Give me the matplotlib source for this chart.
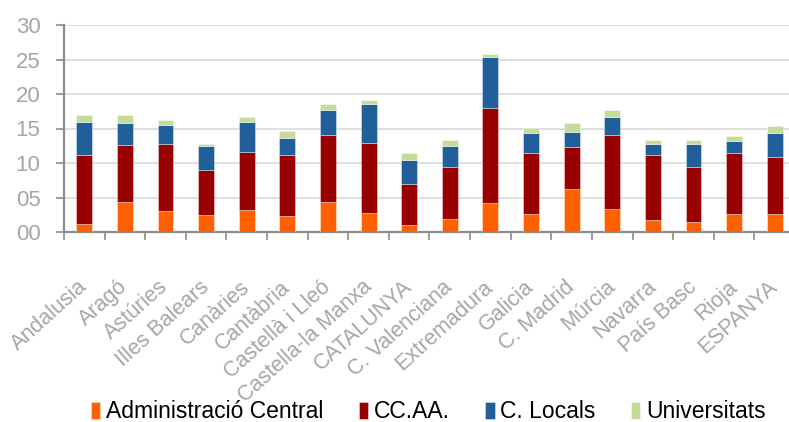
import matplotlib
matplotlib.use("Agg")
import matplotlib.pyplot as plt
import matplotlib.transforms as mtransforms
import numpy as np

plt.rcParams['font.family'] = ['Liberation Sans', 'DejaVu Sans']

categories = ["Andalusia", "Aragó", "Astúries", "Illes Balears", "Canàries", "Cantàbria",
              "Castellà i Lleó", "Castella-la Manxa", "CATALUNYA", "C. Valenciana",
              "Extremadura", "Galicia", "C. Madrid", "Múrcia", "Navarra", "País Basc",
              "Rioja", "ESPANYA"]
admin_central = [1.2, 4.4, 3.0, 2.5, 3.2, 2.3, 4.4, 2.7, 1.0, 1.9, 4.2, 2.6, 6.2, 3.4, 1.7, 1.5, 2.6, 2.6]
ccaa = [9.9, 8.2, 9.7, 6.5, 8.4, 8.8, 9.6, 10.2, 6.0, 7.5, 13.7, 8.8, 6.1, 10.6, 9.4, 7.9, 8.8, 8.2]
c_locals = [4.9, 3.2, 2.8, 3.4, 4.4, 2.5, 3.7, 5.7, 3.5, 3.1, 7.5, 2.9, 2.2, 2.7, 1.6, 3.3, 1.8, 3.5]
universitats = [0.9, 1.1, 0.7, 0.4, 0.6, 1.0, 0.9, 0.5, 0.9, 0.9, 0.4, 0.8, 1.3, 1.0, 0.7, 0.7, 0.7, 1.0]
series_names = ["Administració Central", "CC.AA.", "C. Locals", "Universitats"]
yticks = [0, 5, 10, 15, 20, 25, 30]
ytick_labels = ["00", "05", "10", "15", "20", "25", "30"]

colors = ["#FF6000", "#990000", "#215F9A", "#C3DC9A"]

fig = plt.figure(figsize=(7.89, 4.22), dpi=100)
ax = fig.add_axes([64/789, 190/422, 731/789, 207/422])

x = np.arange(len(categories))
bottom = np.zeros(len(categories))
handles = []
for vals, col, name in zip([admin_central, ccaa, c_locals, universitats], colors, series_names):
    b = ax.bar(x, vals, 0.39, bottom=bottom, color=col, label=name,
               edgecolor=(1, 1, 1, 0.45), linewidth=0.6, zorder=3)
    handles.append(b)
    bottom += np.array(vals)

ax.set_xlim(-0.5, len(categories) - 0.5)
ax.set_ylim(0, 30)
ax.set_yticks(yticks)
ax.set_yticklabels(ytick_labels)
ax.yaxis.grid(True, color="#D9D9D9", linewidth=1.2, zorder=0)
ax.set_axisbelow(True)

for s in ["top", "right"]:
    ax.spines[s].set_visible(False)
for s in ["left", "bottom"]:
    ax.spines[s].set_color("#8C8C8C")
    ax.spines[s].set_linewidth(1.6)

ax.tick_params(axis="y", colors="#8C8C8C", length=6, width=1.2, labelsize=16,
               labelcolor="#A6A6A6", pad=11)
ax.set_xticks(x)
ax.set_xticklabels(categories, rotation=42, ha="right", va="top", color="#A6A6A6", fontsize=15.5)
ax.tick_params(axis="x", which="major", length=0, pad=32)
offset = mtransforms.ScaledTranslation(7/100, 0, fig.dpi_scale_trans)
for lbl in ax.get_xticklabels():
    lbl.set_transform(lbl.get_transform() + offset)
ax.set_xticks(np.arange(-0.5, len(categories)), minor=True)
ax.tick_params(axis="x", which="minor", length=6, width=1.2, color="#8C8C8C")

fig.legend(handles=handles, labels=series_names, loc="center", ncol=4,
           bbox_to_anchor=(0.543, 1 - 412/422), frameon=False, fontsize=16.5,
           handlelength=0.4, handleheight=0.75, handletextpad=0.25, columnspacing=1.55,
           borderpad=0)

fig.savefig("out.png", dpi=100)
